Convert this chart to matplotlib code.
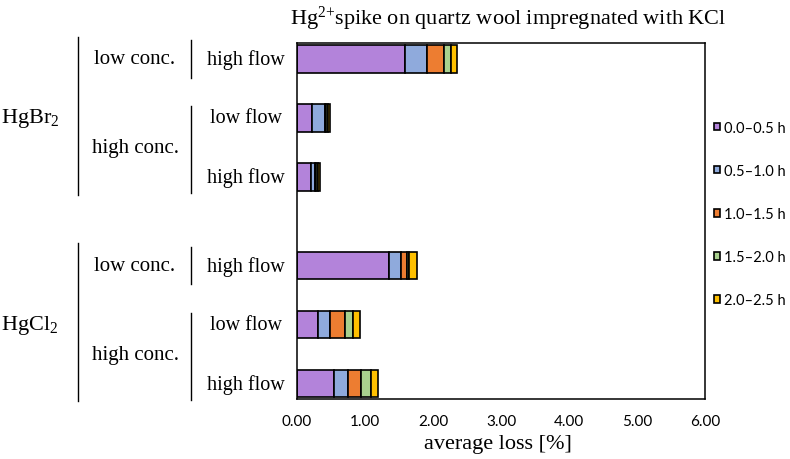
import matplotlib.pyplot as plt
import matplotlib.transforms as mtrans
import numpy as np

plt.rcParams['font.family'] = ['Liberation Serif', 'DejaVu Serif']
plt.rcParams['mathtext.default'] = 'regular'

# rows from top to bottom
compounds = ['HgBr$_2$', 'HgCl$_2$']
conc = ['low conc.', 'high conc.', 'low conc.', 'high conc.']
flow = ['high flow', 'low flow', 'high flow', 'high flow', 'low flow', 'high flow']

# average loss [%] per time interval
s_00_05 = [1.59, 0.22, 0.21, 1.35, 0.31, 0.54]
s_05_10 = [0.32, 0.19, 0.05, 0.18, 0.18, 0.21]
s_10_15 = [0.25, 0.02, 0.025, 0.09, 0.22, 0.19]
s_15_20 = [0.10, 0.02, 0.025, 0.02, 0.12, 0.15]
s_20_25 = [0.09, 0.03, 0.025, 0.12, 0.09, 0.10]
series = [s_00_05, s_05_10, s_10_15, s_15_20, s_20_25]
labels = ['0.0\u20130.5 h', '0.5\u20131.0 h', '1.0\u20131.5 h', '1.5\u20132.0 h', '2.0\u20132.5 h']
colors = ['#B383DA', '#8FAADC', '#ED7D31', '#A9D18E', '#FFC000']

xticks = [0, 1, 2, 3, 4, 5, 6]

# row positions (gap between the two compounds)
ypos = np.array([0, 1, 2, 3.5, 4.5, 5.5])

fig = plt.figure(figsize=(7.9, 4.6), dpi=100)
ax = fig.add_axes([297 / 790, 1 - 400 / 460, 408 / 790, 356 / 460])

left = np.zeros(len(ypos))
for vals, col, lab in zip(series, colors, labels):
    vals = np.array(vals)
    ax.barh(ypos, vals, left=left, height=0.46, color=col,
            edgecolor='black', linewidth=1.2, label=lab)
    left += vals

ax.set_xlim(0, 6)
ax.set_ylim(5.76, -0.27)
ax.set_xticks(xticks)
ax.set_xticklabels([f'{v:.2f}' for v in xticks], family='Lato', size=11)
ax.tick_params(axis='x', length=0, pad=11)
ax.set_yticks([])
for sp in ax.spines.values():
    sp.set_linewidth(1.1)

fig.text(498 / 790, 1 - 445 / 460, 'average loss [%]', ha='center', va='center', size=16)
fig.text(508 / 790, 1 - 19 / 460, 'Hg$^{2{+}}$spike on quartz wool impregnated with KCl',
         ha='center', va='center', size=16)

# hierarchical category labels
tr = mtrans.blended_transform_factory(fig.transFigure, ax.transData)
for y, t in zip(ypos, flow):
    fig.text(246 / 790, y, t, transform=tr, ha='center', va='center', size=14.5)

conc_rows = [[0], [1, 2], [3], [4, 5]]
for rows, t in zip(conc_rows, conc):
    y0, y1 = ypos[rows[0]], ypos[rows[-1]]
    fig.text(135 / 790, (y0 + y1) / 2, t, transform=tr, ha='center', va='center', size=15)
    if len(rows) == 1:
        a, b = y0 - 0.32, y1 + 0.32
    else:
        a, b = y0 - 0.2, y1 + 0.27
    ax.plot([191 / 790, 191 / 790], [a, b], transform=tr, color='black',
            lw=1, clip_on=False)

comp_rows = [[0, 1, 2], [3, 4, 5]]
for rows, t in zip(comp_rows, compounds):
    y0, y1 = ypos[rows[0]], ypos[rows[-1]]
    fig.text(30 / 790, (y0 + y1) / 2, t, transform=tr, ha='center', va='center', size=16)
    ax.plot([78 / 790, 78 / 790], [y0 - 0.38, y1 + 0.3], transform=tr, color='black',
            lw=1, clip_on=False)

fig.legend(loc='center left', bbox_to_anchor=(714 / 790, 1 - 215 / 460), frameon=False,
           prop={'family': 'Lato', 'size': 10.5}, handlelength=0.43, handleheight=0.43,
           handletextpad=0.28, labelspacing=2.0, borderpad=0, borderaxespad=0)

fig.savefig('out.png', dpi=100)
